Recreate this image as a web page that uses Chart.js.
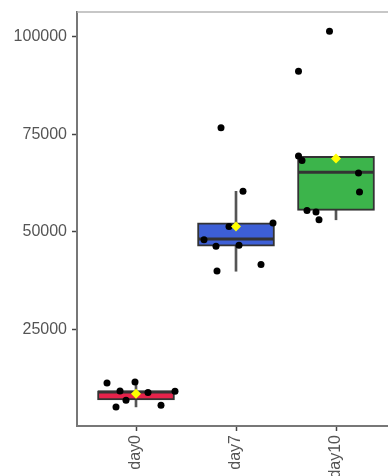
<!DOCTYPE html>
<html>
<head>
<meta charset="utf-8">
<script src="https://cdn.jsdelivr.net/npm/chart.js@4"></script>
<style>
  html, body { margin: 0; padding: 0; background: #fff; overflow: hidden; }
  #wrap { width: 388px; height: 476px; }
</style>
</head>
<body>
<div id="wrap"><canvas id="boxChart" width="388" height="476"></canvas></div>
<script>
// categories and y ticks
const categories = ['day0', 'day7', 'day10'];
const yTicks = [25000, 50000, 75000, 100000];

// box statistics per category
const q1 = [6900, 46300, 55500];
const q3 = [9200, 52300, 69400];
const medians = [8900, 48200, 65300];
const whiskerLow = [5100, 39900, 53100];
const whiskerHigh = [11500, 60400, 69400];
const means = [8500, 51400, 68800];
const boxColors = ['#e5234b', '#3d5fd6', '#3cb44b'];

const day0X = [0.71, 0.84, 0.99, 1.12, 1.39, 0.90, 0.80, 1.25];
const day0Y = [11230, 9180, 11490, 8770, 9100, 6800, 5080, 5510];
const day7X = [1.85, 2.07, 2.37, 1.93, 1.68, 1.80, 2.03, 2.25, 1.81];
const day7Y = [76700, 60450, 52250, 51400, 48000, 46280, 46540, 41660, 39950];
const day10X = [2.935, 2.625, 2.625, 2.66, 3.225, 3.235, 2.71, 2.80, 2.83];
const day10Y = [101480, 91230, 69430, 68330, 65070, 60200, 55510, 55080, 53120];

document.addEventListener("DOMContentLoaded", function () {
    const pos = categories.map((c, i) => i + 1);
    const pts = [];
    [[day0X, day0Y], [day7X, day7Y], [day10X, day10Y]].forEach(([xs, ys]) => {
        xs.forEach((x, i) => pts.push({ x: x, y: ys[i] }));
    });

    const topBorder = {
        id: 'topBorder',
        afterDraw(chart) {
            const { ctx, chartArea } = chart;
            ctx.save();
            ctx.strokeStyle = '#b5b5b5';
            ctx.lineWidth = 1.5;
            ctx.beginPath();
            ctx.moveTo(chartArea.left, chartArea.top);
            ctx.lineTo(chartArea.right, chartArea.top);
            ctx.stroke();
            ctx.restore();
        }
    };

    const font = { family: 'Liberation Sans', size: 16 };

    new Chart(document.getElementById('boxChart').getContext('2d'), {
        type: 'bar',
        data: {
            datasets: [
                {
                    label: 'whiskers',
                    data: pos.map((x, i) => ({ x: x, y: [whiskerLow[i], whiskerHigh[i]] })),
                    backgroundColor: '#555',
                    barThickness: 2,
                    grouped: false,
                    order: 5
                },
                {
                    label: 'boxes',
                    data: pos.map((x, i) => ({ x: x, y: [q1[i], q3[i]] })),
                    backgroundColor: boxColors,
                    borderColor: '#333',
                    borderWidth: 2,
                    borderSkipped: false,
                    barThickness: 77,
                    grouped: false,
                    order: 4
                },
                {
                    type: 'scatter',
                    label: 'medians',
                    data: pos.map((x, i) => ({ x: x, y: medians[i] })),
                    pointStyle: 'line',
                    radius: 38,
                    borderColor: '#333',
                    borderWidth: 3,
                    order: 3
                },
                {
                    type: 'scatter',
                    label: 'points',
                    data: pts,
                    pointStyle: 'circle',
                    radius: 3.5,
                    backgroundColor: '#000',
                    borderWidth: 0,
                    order: 2
                },
                {
                    type: 'scatter',
                    label: 'means',
                    data: pos.map((x, i) => ({ x: x, y: means[i] })),
                    pointStyle: 'rectRot',
                    radius: 5,
                    backgroundColor: '#ffff00',
                    borderWidth: 0,
                    order: 1
                }
            ]
        },
        options: {
            responsive: false,
            animation: false,
            layout: { autoPadding: false, padding: { top: 12, left: 0, right: 0, bottom: 0 } },
            plugins: { legend: { display: false }, tooltip: { enabled: false } },
            scales: {
                x: {
                    type: 'linear',
                    offset: false,
                    min: 0.41,
                    max: 3.52,
                    afterFit: s => { s.height = 50; s.paddingLeft = 0; s.paddingRight = 0; },
                    afterBuildTicks: s => { s.ticks = pos.map(v => ({ value: v })); },
                    ticks: {
                        callback: v => categories[v - 1] || '',
                        minRotation: 90,
                        maxRotation: 90,
                        color: '#555',
                        font: font,
                        padding: 4
                    },
                    grid: { offset: false, drawOnChartArea: false, tickLength: 5, color: '#444', tickWidth: 1.5 },
                    border: { color: '#777', width: 2 }
                },
                y: {
                    min: 200,
                    max: 106400,
                    afterFit: s => { s.width = 77; s.paddingTop = 0; s.paddingBottom = 0; },
                    afterBuildTicks: s => { s.ticks = yTicks.map(v => ({ value: v })); },
                    ticks: { color: '#555', font: font, padding: 5, callback: v => String(v) },
                    grid: { drawOnChartArea: false, tickLength: 5, color: '#444', tickWidth: 1.5 },
                    border: { color: '#777', width: 2 }
                }
            }
        },
        plugins: [topBorder]
    });
});
</script>
</body>
</html>
